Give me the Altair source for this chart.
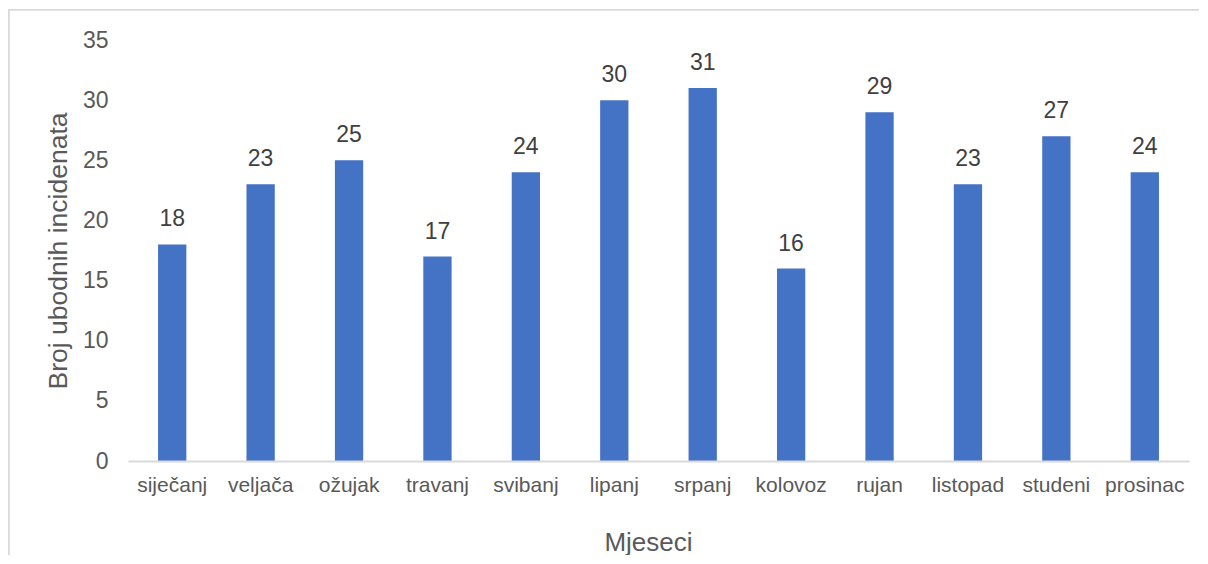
import altair as alt
import pandas as pd

months = ["siječanj", "veljača", "ožujak", "travanj", "svibanj", "lipanj",
          "srpanj", "kolovoz", "rujan", "listopad", "studeni", "prosinac"]
counts = [18, 23, 25, 17, 24, 30, 31, 16, 29, 23, 27, 24]

df = pd.DataFrame({"mjesec": months, "broj": counts})

FONT = "Liberation Sans"
GREY = "#595959"

x = alt.X("mjesec:N", sort=months, title="Mjeseci",
          scale=alt.Scale(paddingInner=0.68, paddingOuter=0.34),
          axis=alt.Axis(labelAngle=0, labelFontSize=21, labelColor=GREY, labelFont=FONT,
                        titleFontSize=26, titleColor=GREY, titleFont=FONT, titleFontWeight="normal",
                        titleX=520, titleAlign="center", zindex=1,
                        ticks=False, domainColor="#d9d9d9", domainWidth=2,
                        labelPadding=13, titlePadding=34))
y = alt.Y("broj:Q", title="Broj ubodnih incidenata",
          scale=alt.Scale(domain=[0, 35]),
          axis=alt.Axis(values=[0, 5, 10, 15, 20, 25, 30, 35], grid=False, domain=False, ticks=False,
                        labelFontSize=23, labelColor=GREY, labelFont=FONT, labelPadding=20,
                        titleFontSize=26.5, titleColor=GREY, titleFont=FONT, titleFontWeight="normal",
                        titlePadding=10, zindex=1))

frame = alt.Chart(df).mark_rect(fill="white", stroke="#d9d9d9", strokeWidth=1.5).encode(
    x=alt.value(-119), x2=alt.value(1150), y=alt.value(-30), y2=alt.value(620))
bars = alt.Chart(df).mark_bar(color="#4472C4").encode(x=x, y=y)
labels = alt.Chart(df).mark_text(baseline="bottom", dy=-13, fontSize=23, font=FONT, color="#404040").encode(
    x=alt.X("mjesec:N", sort=months), y="broj:Q", text="broj:Q")

chart = (frame + bars + labels).properties(
    width=1061, height=421,
    autosize=alt.AutoSizeParams(type="none"),
    padding={"left": 120, "top": 32, "right": 10, "bottom": 94},
).configure_view(stroke=None)

chart.save("out.html", embed_options={"renderer": "svg", "actions": False})
